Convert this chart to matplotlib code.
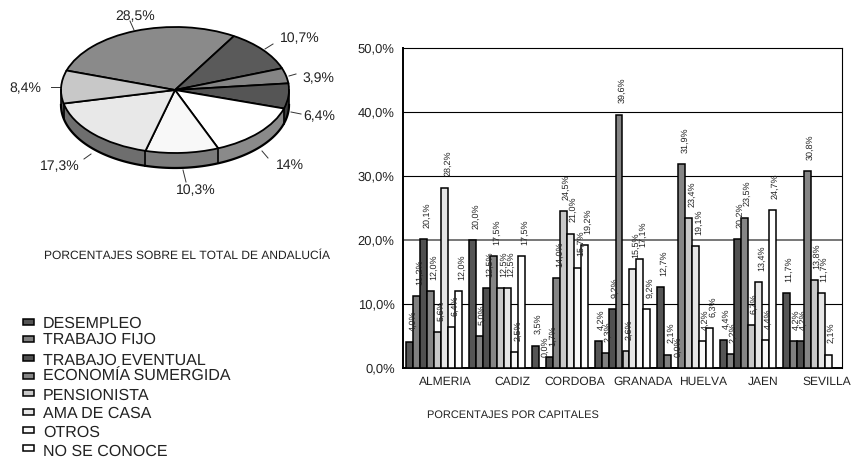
import numpy as np
import matplotlib
matplotlib.use("Agg")
import matplotlib.pyplot as plt
from matplotlib.patches import Rectangle

plt.rcParams['font.family'] = ['Liberation Sans', 'DejaVu Sans']
plt.rcParams['text.hinting'] = 'no_hinting'
plt.rcParams['text.hinting_factor'] = 1

W, H = 851, 459

# Pie data
pie_labels = ["28,5%", "10,7%", "3,9%", "6,4%", "14%", "10,3%", "17,3%", "8,4%"]
pie_values = [28.5, 10.7, 3.9, 6.4, 14.0, 10.3, 17.3, 8.4]
pie_colors = ["#8a8a8a", "#5a5a5a", "#858585", "#555555", "#ffffff", "#f8f8f8", "#e8e8e8", "#c8c8c8"]
side_colors = ["#6a6a6a", "#444444", "#5a5a5a", "#3c3c3c", "#8a8a8a", "#7c7c7c", "#6e6e6e", "#666666"]

# Bar data
capitales = ["ALMERIA", "CADIZ", "CORDOBA", "GRANADA", "HUELVA", "JAEN", "SEVILLA"]
desempleo = [4.0, 20.0, 3.5, 4.2, 12.7, 4.4, 11.7]
trabajo_fijo = [11.2, 5.0, 0.0, 2.3, 2.1, 2.2, 4.2]
trabajo_eventual = [20.1, 12.5, 1.7, 9.2, 0.0, 20.2, 4.2]
economia_sumergida = [12.0, 17.5, 14.0, 39.6, 31.9, 23.5, 30.8]
pensionista = [5.6, 12.5, 24.5, 2.6, 23.4, 6.7, 13.8]
ama_de_casa = [28.2, 12.5, 21.0, 15.5, 19.1, 13.4, 11.7]
otros = [6.4, 2.5, 15.7, 17.1, 4.2, 4.4, 2.1]
no_se_conoce = [12.0, 17.5, 19.2, 9.2, 6.3, 24.7, np.nan]

series = [desempleo, trabajo_fijo, trabajo_eventual, economia_sumergida,
          pensionista, ama_de_casa, otros, no_se_conoce]
legend_labels = ["DESEMPLEO", "TRABAJO FIJO", "TRABAJO EVENTUAL", "ECONOMÍA SUMERGIDA",
                 "PENSIONISTA", "AMA DE CASA", "OTROS", "NO SE CONOCE"]
bar_colors = ["#555555", "#808080", "#505050", "#858585", "#c8c8c8", "#e6e6e6", "#f8f8f8", "#ffffff"]

y_ticks = [0, 10, 20, 30, 40, 50]
y_tick_labels = ["0,0%", "10,0%", "20,0%", "30,0%", "40,0%", "50,0%"]
label_shift = [0.17, 0.25, 0.24, 0.33, 0.29, 0.24, 0.26]


def box(left, top, right, bottom):
    # pixel box to figure fraction
    return [left / W, 1 - bottom / H, (right - left) / W, (bottom - top) / H]


fig = plt.figure(figsize=(W / 100, H / 100), dpi=100)

# overlay in pixel coords for the loose text
over = fig.add_axes([0, 0, 1, 1])
over.set_xlim(0, W)
over.set_ylim(H, 0)
over.axis("off")

# Pie, squashed into an ellipse, with the thickness stacked underneath
rx, ry = 114, 63
pax = fig.add_axes(box(175 - rx * 1.25, 90 - ry * 1.25, 175 + rx * 1.25, 90 + ry * 1.25 + 20))
depth = 15 / ry
for d in np.linspace(depth, 0.02, 16):
    pax.pie(pie_values, colors=side_colors, startangle=162, counterclock=False,
            center=(0, -d), wedgeprops=dict(linewidth=0))

# front rim and the vertical joints between slices
t = np.linspace(np.pi, 2 * np.pi, 100)
pax.plot(np.cos(t), np.sin(t) - depth, color="black", lw=1.6)
for edge in [np.pi, 2 * np.pi]:
    pax.plot([np.cos(edge)] * 2, [0, -depth], color="black", lw=1.2)
angles = 162 - np.cumsum(pie_values) * 360 / sum(pie_values)
for a in np.radians(angles):
    if np.sin(a) < 0:
        pax.plot([np.cos(a)] * 2, [np.sin(a), np.sin(a) - depth], color="black", lw=1.2)

pax.pie(pie_values, colors=pie_colors, startangle=162, counterclock=False,
        wedgeprops=dict(linewidth=1.3, edgecolor="black"))
pax.set_aspect("auto")
pax.set_xlim(-1.25, 1.25)
pax.set_ylim(-1.25 - 20 / ry, 1.25)

pie_text_xy = [(135, 17), (300, 39), (318, 79), (319, 117), (290, 165), (196, 191), (60, 167), (25, 89)]
pie_lines = [((130, 21), (134, 30)), ((273, 44), (265, 49)), ((296, 74), (289, 76)),
             ((301, 114), (291, 112)), ((268, 158), (262, 151)), ((186, 182), (183, 170)),
             ((84, 159), (91, 154)), ((51, 87), (62, 87))]
for lab, (x, y), (a, b) in zip(pie_labels, pie_text_xy, pie_lines):
    over.text(x, y, lab, fontsize=10, ha="center", va="center", color="#222222")
    over.plot([a[0], b[0]], [a[1], b[1]], color="#333333", lw=0.7)

over.text(187.5, 256, "PORCENTAJES SOBRE EL TOTAL DE ANDALUCÍA", fontsize=8.8, ha="center", va="center", color="#222222")
over.text(513, 415, "PORCENTAJES POR CAPITALES", fontsize=8.2, ha="center", va="center", color="#222222")

# Legend
legend_text_y = [324, 340, 361, 377, 396, 414, 433, 452]
legend_box_y = [322, 339, 358, 376, 393, 412, 430, 448]
for lab, c, ty, by in zip(legend_labels, bar_colors, legend_text_y, legend_box_y):
    over.add_patch(Rectangle((23, by - 3), 11, 6, facecolor=c, edgecolor="black", lw=1.1))
    over.text(43, ty, lab, fontsize=11.5, ha="left", va="center", color="#222222")

# Bars
ax = fig.add_axes(box(403, 48, 842, 368))
bar_w = 1 / 8.96
for s, (vals, c) in enumerate(zip(series, bar_colors)):
    xs = np.arange(len(capitales)) + (s - 3.5) * bar_w
    ax.bar(xs, vals, width=bar_w, color=c, edgecolor="black", linewidth=1.1, zorder=3)
    for x, v in zip(xs, vals):
        if np.isnan(v):
            continue
        ax.annotate(f"{v:.1f}%".replace(".", ","), (x, v), xytext=(2.2, 8), textcoords="offset points",
                    rotation=90, ha="center", va="bottom", fontsize=6.6, color="#222222", zorder=4)

ax.set_xlim(-0.5, len(capitales) - 0.5)
ax.set_ylim(0, 50)
ax.set_yticks(y_ticks)
ax.set_yticklabels(y_tick_labels, fontsize=9.2, color="#222222")
ax.set_xticks(np.arange(len(capitales)) + np.array(label_shift))
ax.set_xticklabels(capitales, fontsize=8.3, color="#222222")
ax.tick_params(length=0, pad=6)
for t in y_ticks[1:-1]:
    ax.axhline(t, color="#777777" if t == 20 else "black", lw=1.4 if t == 20 else 0.8, zorder=1)
for name in ["top", "right"]:
    ax.spines[name].set_linewidth(0.8)
ax.spines["left"].set_linewidth(1.4)
ax.spines["bottom"].set_linewidth(1.4)

fig.savefig("out.png", dpi=100)
plt.close(fig)
